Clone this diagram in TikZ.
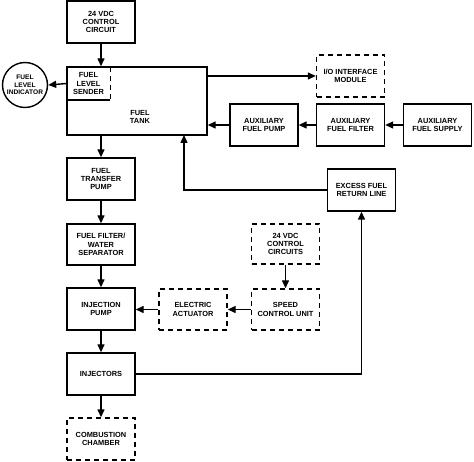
\documentclass[tikz,border=0pt]{standalone}
\usepackage{fontspec}
\setmainfont{Liberation Sans}
\usetikzlibrary{arrows.meta}

\tikzstyle{block}=[draw, line width=1.4pt, rectangle, minimum width=68pt, minimum height=42pt, align=center, inner sep=1pt, font=\fontsize{7.4}{8.2}\selectfont\bfseries]
\tikzstyle{dblock}=[block, dash pattern=on 5pt off 4pt]
\tikzstyle{arr}=[line width=1.4pt, -{Triangle[length=8pt,width=7pt]}]

\begin{document}
\begin{tikzpicture}[x=1pt,y=-1pt]
\useasboundingbox (0,0) rectangle (474,462);

% tank and its sender
\node[block, minimum width=140pt, minimum height=68pt] (tank) at (137,101) {};
\node[font=\fontsize{7.4}{8.2}\selectfont\bfseries, align=center] (tanklabel) at (140,117) {FUEL\\TANK};
\node[minimum width=43pt, minimum height=33pt, inner sep=0pt, align=center, font=\fontsize{7.4}{8.2}\selectfont\bfseries] (sender) at (88.5,83.5) {FUEL\\LEVEL\\SENDER};
\draw[line width=1.4pt] (sender.south west) -- (sender.south east);
\draw[line width=1.4pt, dash pattern=on 5pt off 4pt] (sender.north east) -- (sender.south east);

\node[draw, circle, line width=1.4pt, minimum size=45pt, inner sep=0pt, align=center, font=\fontsize{6.6}{7.6}\selectfont\bfseries] (indicator) at (25,85) {FUEL\\LEVEL\\INDICATOR};

\node[block] (ctrl) at (101,22) {24 VDC\\CONTROL\\CIRCUIT};

% right side
\node[dblock] (io) at (350.5,76) {I/O INTERFACE\\MODULE};
\node[block] (auxpump) at (264,125) {AUXILIARY\\FUEL PUMP};
\node[block] (auxfilter) at (350.5,125) {AUXILIARY\\FUEL FILTER};
\node[block] (auxsupply) at (437.5,125) {AUXILIARY\\FUEL SUPPLY};
\node[block] (excess) at (361.5,190) {EXCESS FUEL\\RETURN LINE};

\node[dblock, minimum height=40pt] (circuits) at (285.5,244) {24 VDC\\CONTROL\\CIRCUITS};
\node[dblock, minimum height=41pt] (speed) at (285.5,309.5) {SPEED\\CONTROL UNIT};
\node[dblock, minimum height=41pt] (actuator) at (193,309.5) {ELECTRIC\\ACTUATOR};

% left column
\node[block] (transfer) at (101,179) {FUEL\\TRANSFER\\PUMP};
\node[block, minimum height=41pt] (filter) at (101,244.5) {FUEL FILTER/\\WATER\\SEPARATOR};
\node[block] (injpump) at (101,309) {INJECTION\\PUMP};
\node[block] (injectors) at (101,374) {INJECTORS};
\node[dblock] (chamber) at (101,439) {COMBUSTION\\CHAMBER};

\coordinate (ret) at (184,135);

\draw[arr] (ctrl.south) -- (tank.north -| ctrl.south);
\draw[arr] (sender.west) -- (indicator.east);
\draw[arr] (io.west -| tank.east) -- (io.west);
\draw[arr] (auxsupply) -- (auxfilter);
\draw[arr] (auxfilter) -- (auxpump);
\draw[arr] (auxpump.west) -- (auxpump.west -| tank.east);
\draw[arr] (excess.west) -| (ret);
\draw[arr] (injectors.east) -| (excess.south);
\draw[arr] (circuits) -- (speed);
\draw[arr] (speed) -- (actuator);
\draw[arr] (actuator.west) -- (actuator.west -| injpump.east);

\draw[arr] (tank.south -| transfer.north) -- (transfer.north);
\draw[arr] (transfer) -- (filter);
\draw[arr] (filter) -- (injpump);
\draw[arr] (injpump) -- (injectors);
\draw[arr] (injectors) -- (chamber);

\end{tikzpicture}
\end{document}
